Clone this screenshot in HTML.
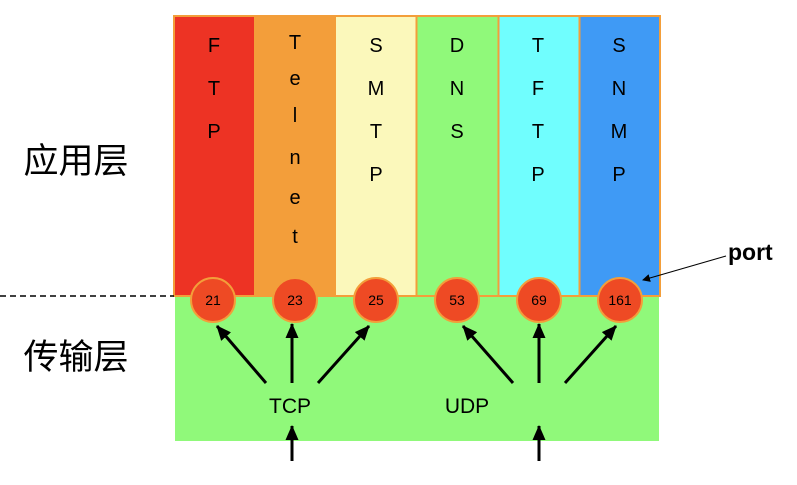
<!DOCTYPE html>
<html><head><meta charset="utf-8"><style>body{margin:0;background:#fff;}</style></head>
<body>
<svg width="797" height="480" xmlns="http://www.w3.org/2000/svg" font-family="Liberation Sans, Arial, sans-serif">
<defs><marker id="ah" markerWidth="8" markerHeight="8" refX="7" refY="4" orient="auto" markerUnits="userSpaceOnUse" viewBox="0 0 8 8"><path d="M0,0 L8,4 L0,8 z" fill="#000"/></marker>
<marker id="ab" markerWidth="15" markerHeight="13" refX="14" refY="6.5" orient="auto" markerUnits="userSpaceOnUse"><path d="M0,0 L15,6.5 L0,13 z" fill="#000"/></marker></defs>
<rect x="175" y="296" width="484" height="145" fill="#90f97a"/>
<rect x="175" y="17" width="79" height="279" fill="#ed3324"/>
<rect x="254" y="17" width="82" height="279" fill="#f39e3a"/>
<rect x="336" y="17" width="80" height="279" fill="#fbf8bb"/>
<rect x="416" y="17" width="82" height="279" fill="#90f97a"/>
<rect x="498" y="17" width="81" height="279" fill="#70fefe"/>
<rect x="579" y="17" width="81" height="279" fill="#3f9af5"/>
<g stroke="#f39e3a" stroke-width="2" fill="none">
<rect x="174" y="16" width="486" height="280"/>
<line x1="416.5" y1="17" x2="416.5" y2="296"/><line x1="498.5" y1="17" x2="498.5" y2="296"/><line x1="579.5" y1="17" x2="579.5" y2="296"/>
</g>
<g font-size="20" text-anchor="middle" fill="#000">
<text x="214" y="52">F</text><text x="214" y="95">T</text><text x="214" y="138">P</text>
<text x="295" y="49">T</text><text x="295" y="85">e</text><text x="295" y="122">l</text><text x="295" y="164">n</text><text x="295" y="204">e</text><text x="295" y="243">t</text>
<text x="376" y="52">S</text><text x="376" y="95">M</text><text x="376" y="138">T</text><text x="376" y="181">P</text>
<text x="457" y="52">D</text><text x="457" y="95">N</text><text x="457" y="138">S</text>
<text x="538" y="52">T</text><text x="538" y="95">F</text><text x="538" y="138">T</text><text x="538" y="181">P</text>
<text x="619" y="52">S</text><text x="619" y="95">N</text><text x="619" y="138">M</text><text x="619" y="181">P</text>
</g>
<line x1="0" y1="296" x2="174" y2="296" stroke="#000" stroke-width="1.5" stroke-dasharray="6,4"/>
<text x="76" y="173" font-size="35" text-anchor="middle" font-family="Noto Sans CJK SC, sans-serif">应用层</text>
<text x="76" y="369" font-size="35" text-anchor="middle" font-family="Noto Sans CJK SC, sans-serif">传输层</text>
<text x="728" y="260" font-size="23" font-weight="bold">port</text>
<line x1="726" y1="256" x2="643" y2="280" stroke="#000" stroke-width="1" marker-end="url(#ah)"/>
<g stroke="#f39e3a" stroke-width="2" fill="#ee4a24">
<circle cx="213" cy="300" r="22"/><circle cx="295" cy="300" r="22"/><circle cx="376" cy="300" r="22"/><circle cx="457" cy="300" r="22"/><circle cx="539" cy="300" r="22"/><circle cx="620" cy="300" r="22"/>
</g>
<g font-size="14" text-anchor="middle" fill="#000">
<text x="213" y="305">21</text><text x="295" y="305">23</text><text x="376" y="305">25</text><text x="457" y="305">53</text><text x="539" y="305">69</text><text x="620" y="305">161</text>
</g>
<g stroke="#000" stroke-width="3" marker-end="url(#ab)">
<line x1="266" y1="383" x2="217" y2="326"/><line x1="292" y1="383" x2="292" y2="324"/><line x1="318" y1="383" x2="369" y2="326"/>
<line x1="513" y1="383" x2="463" y2="326"/><line x1="539" y1="383" x2="539" y2="324"/><line x1="565" y1="383" x2="616" y2="326"/>
<line x1="292" y1="461" x2="292" y2="426"/><line x1="539" y1="461" x2="539" y2="426"/>
</g>
<text x="290" y="413" font-size="21" text-anchor="middle">TCP</text>
<text x="467" y="413" font-size="21" text-anchor="middle">UDP</text>
</svg>
</body></html>
